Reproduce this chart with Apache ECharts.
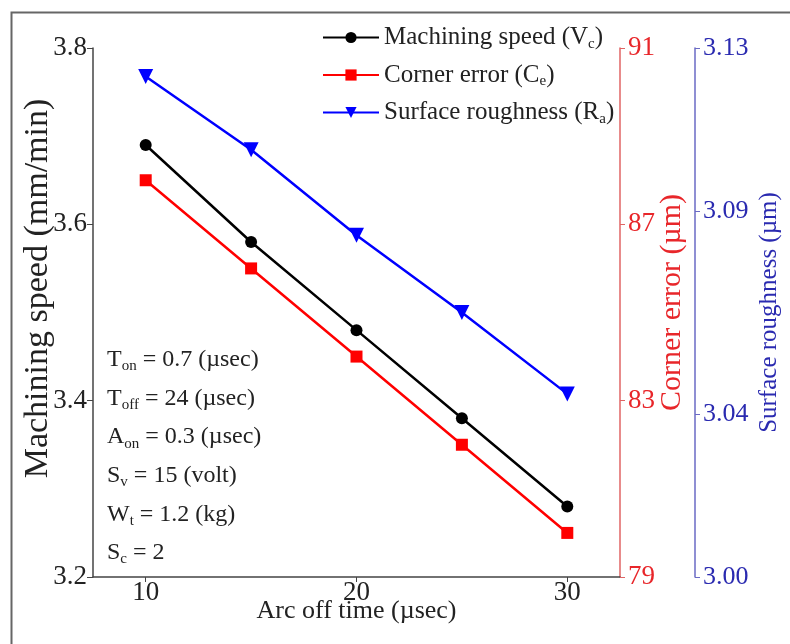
<!DOCTYPE html>
<html>
<head>
<meta charset="utf-8">
<script src="https://cdn.jsdelivr.net/npm/echarts@6/dist/echarts.min.js"></script>
<style>
  html, body { margin: 0; padding: 0; background: #fff; }
  #chart { width: 790px; height: 644px; }
</style>
</head>
<body>
<div id="chart"></div>
<script>
// Arc off time (µsec) and the three measured responses
const arcOffTime = [10, 15, 20, 25, 30];
const machiningSpeed = [3.69, 3.58, 3.48, 3.38, 3.28];
const cornerError = [88, 86, 84, 82, 80];
const surfaceRoughness = [3.123, 3.105, 3.084, 3.065, 3.045];

// Tick values for each axis
const xTicks = [10, 20, 30];
const speedTicks = [3.2, 3.4, 3.6, 3.8];
const errorTicks = [79, 83, 87, 91];
const roughTicks = [3.00, 3.04, 3.09, 3.13];

// Legend entries: [main text, subscript, closing]
const seriesLabels = [
  ['Machining speed (V', 'c', ')'],
  ['Corner error (C', 'e', ')'],
  ['Surface roughness (R', 'a', ')']
];

// Fixed machining conditions: [symbol, subscript, value]
const conditions = [
  ['T', 'on', ' = 0.7 (\u00b5sec)'],
  ['T', 'off', ' = 24 (\u00b5sec)'],
  ['A', 'on', ' = 0.3 (\u00b5sec)'],
  ['S', 'v', ' = 15 (volt)'],
  ['W', 't', ' = 1.2 (kg)'],
  ['S', 'c', ' = 2']
];

const FONT = "'Liberation Serif', 'Times New Roman', serif";
const seriesNames = seriesLabels.map(p => p.join(''));

const pairs = ys => arcOffTime.map((x, i) => [x, ys[i]]);

const chart = echarts.init(document.getElementById('chart'), null, { renderer: 'canvas' });

const conditionTexts = conditions.map((c, i) => ({
  type: 'text',
  left: 107,
  top: 348 + i * 38.6,
  style: {
    text: '{m|' + c[0] + '}{s|' + c[1] + '}{m|' + c[2] + '}',
    rich: {
      m: { fontSize: 24, fontFamily: FONT, fill: '#222' },
      s: { fontSize: 15, fontFamily: FONT, fill: '#222', padding: [13, 0, 0, 0] }
    }
  }
}));

const option = {
  animation: false,
  backgroundColor: '#fff',
  grid: { left: 93, right: 168, top: 48, bottom: 67 },
  legend: {
    orient: 'vertical',
    left: 322,
    top: 25,
    padding: 0,
    itemWidth: 56,
    itemHeight: 14,
    itemGap: 11,
    data: seriesNames,
    formatter: name => {
      const p = seriesLabels[seriesNames.indexOf(name)];
      return '{n|' + p[0] + '}{s|' + p[1] + '}{n|' + p[2] + '}';
    },
    textStyle: {
      rich: {
        n: { fontSize: 25, fontFamily: FONT, color: '#222' },
        s: { fontSize: 15, fontFamily: FONT, color: '#222', padding: [13, 0, 0, 0] }
      }
    }
  },
  xAxis: {
    type: 'value',
    min: 7.5,
    max: 32.5,
    name: 'Arc off time (\u00b5sec)',
    nameLocation: 'middle',
    nameGap: 21,
    nameMoveOverlap: false,
    nameTextStyle: { fontSize: 26, fontFamily: FONT, color: '#222' },
    axisLine: { lineStyle: { color: '#444', width: 1.5 } },
    axisTick: { customValues: xTicks, length: 5, lineStyle: { color: '#444' } },
    axisLabel: { customValues: xTicks, fontSize: 27, fontFamily: FONT, color: '#222', margin: 2 },
    splitLine: { show: false }
  },
  yAxis: [
    {
      type: 'value',
      position: 'left',
      min: 3.2,
      max: 3.8,
      name: 'Machining speed (mm/min)',
      nameLocation: 'middle',
      nameRotate: 90,
      nameGap: 38,
      nameMoveOverlap: false,
      nameTextStyle: { fontSize: 34, fontFamily: FONT, color: '#222', padding: [0, 0, 0, 48] },
      axisLine: { show: true, lineStyle: { color: '#444', width: 1.5 } },
      axisTick: { show: true, customValues: speedTicks, length: 6, lineStyle: { color: '#444' } },
      axisLabel: {
        customValues: speedTicks, fontSize: 27, fontFamily: FONT, color: '#222', margin: 6,
        formatter: v => v.toFixed(1)
      },
      splitLine: { show: false }
    },
    {
      type: 'value',
      position: 'right',
      min: 79,
      max: 91,
      name: 'Corner error (\u00b5m)',
      nameLocation: 'middle',
      nameRotate: 90,
      nameGap: 37,
      nameMoveOverlap: false,
      nameTextStyle: { fontSize: 30, fontFamily: FONT, color: '#e8262a', padding: [0, 0, 0, 20] },
      axisLine: { show: true, lineStyle: { color: '#e06464', width: 1.5 } },
      axisTick: { show: true, customValues: errorTicks, length: 5, lineStyle: { color: '#e06464' } },
      axisLabel: { customValues: errorTicks, fontSize: 27, fontFamily: FONT, color: '#e8262a', margin: 8 },
      splitLine: { show: false }
    },
    {
      type: 'value',
      position: 'right',
      offset: 75,
      min: 3.00,
      max: 3.13,
      name: 'Surface roughness (\u00b5m)',
      nameLocation: 'middle',
      nameRotate: 90,
      nameGap: 62,
      nameMoveOverlap: false,
      nameTextStyle: { fontSize: 25, fontFamily: FONT, color: '#2a2ab0' },
      axisLine: { show: true, lineStyle: { color: '#6a6ac4', width: 1.5 } },
      axisTick: { show: true, customValues: roughTicks, length: 5, lineStyle: { color: '#6a6ac4' } },
      axisLabel: {
        customValues: roughTicks, fontSize: 26, fontFamily: FONT, color: '#2a2ab0', margin: 8,
        formatter: v => v.toFixed(2)
      },
      splitLine: { show: false }
    }
  ],
  series: [
    {
      name: seriesNames[0],
      type: 'line',
      yAxisIndex: 0,
      data: pairs(machiningSpeed),
      symbol: 'circle',
      symbolSize: 12,
      itemStyle: { color: '#000' },
      lineStyle: { color: '#000', width: 2.5 }
    },
    {
      name: seriesNames[1],
      type: 'line',
      yAxisIndex: 1,
      data: pairs(cornerError),
      symbol: 'rect',
      symbolSize: 12,
      itemStyle: { color: '#ff0000' },
      lineStyle: { color: '#ff0000', width: 2.5 }
    },
    {
      name: seriesNames[2],
      type: 'line',
      yAxisIndex: 2,
      data: pairs(surfaceRoughness),
      symbol: 'triangle',
      symbolRotate: 180,
      symbolSize: 15,
      itemStyle: { color: '#0000ff' },
      lineStyle: { color: '#0000ff', width: 2.5 }
    }
  ],
  graphic: [
    {
      type: 'rect',
      left: 9,
      top: 10,
      shape: { width: 800, height: 660 },
      style: { fill: 'none', stroke: '#666', lineWidth: 2 },
      silent: true
    }
  ].concat(conditionTexts)
};

chart.setOption(option);
</script>
</body>
</html>
